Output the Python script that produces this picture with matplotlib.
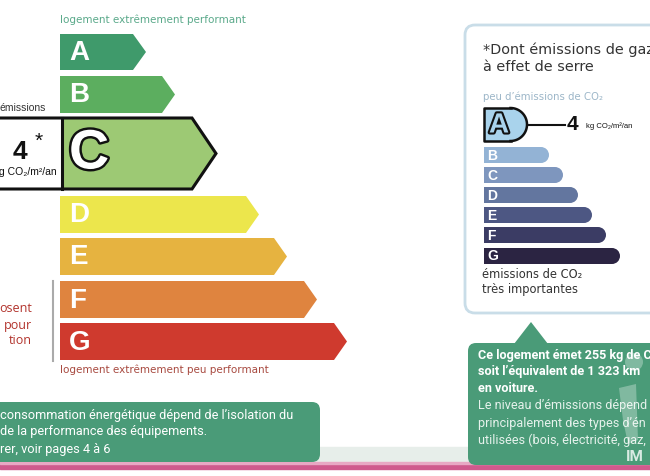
import matplotlib
matplotlib.use("Agg")
import matplotlib.pyplot as plt
from matplotlib.patches import Polygon, Rectangle, Circle, FancyBboxPatch
import matplotlib.patheffects as pe
import numpy as np

# ---------------- data ----------------
dpe_letters = ['A', 'B', 'C', 'D', 'E', 'F', 'G']
dpe_widths = [86, 115, 154, 199, 227, 257, 287]          # bar length (px)
dpe_colors = ['#3f9a6b', '#5cae5f', '#9dc974', '#ece64c', '#e6b340', '#df843f', '#cf3a2e']
dpe_class = 'C'
ges_value = 4
ges_class = 'A'
ges_letters = ['B', 'C', 'D', 'E', 'F', 'G']
ges_widths = [65, 79, 94, 108, 122, 136]
ges_colors = ['#93b3d5', '#7e96be', '#63769f', '#4d5783', '#3b3c64', '#2b2442']
unit = 'kg CO₂/m²/an'
top_label = 'logement extrêmement performant'
bottom_label = 'logement extrêmement peu performant'
left_box_lines = ['consommation énergétique dépend de l\u2019isolation du',
                  'de la performance des équipements.',
                  'rer, voir pages 4 à 6']
callout_bold = ['Ce logement émet 255 kg de CO₂', 'soit l\u2019équivalent de 1 323 km', 'en voiture.']
callout_norm = ['Le niveau d\u2019émissions dépend', 'principalement des types d\u2019én',
                'utilisées (bois, électricité, gaz,']

GREEN = '#4a9b78'

fig = plt.figure(figsize=(6.5, 4.76), dpi=100)
ax = fig.add_axes([0, 0, 1, 1])
ax.set_xlim(0, 650)
ax.set_ylim(476, 0)
ax.axis('off')

# ---------------- background bands ----------------
ax.add_patch(Rectangle((0, 447), 650, 16, color='#e7eeea', zorder=0))
ax.add_patch(Rectangle((0, 463), 650, 6, color='#cf5a8d', zorder=1))
ax.add_patch(Rectangle((0, 462), 650, 1.5, color='#e8a8c4', zorder=1))

# ---------------- left DPE scale ----------------
x0 = 60
tops = [34, 76, 118, 196, 238, 281, 323]
hs = [36, 37, 71, 37, 37, 37, 37]
for L, w, c, t, h in zip(dpe_letters, dpe_widths, dpe_colors, tops, hs):
    if L == dpe_class:
        xs = 62
        tip = 24
        xe = xs + w
        shape = [(-5, t), (xe - tip, t), (xe, t + h / 2), (xe - tip, t + h), (-5, t + h)]
        ax.add_patch(Polygon(shape, closed=True, facecolor='white', edgecolor='none', zorder=2))
        ax.add_patch(Polygon([(xs, t), (xe - tip, t), (xe, t + h / 2), (xe - tip, t + h), (xs, t + h)],
                             closed=True, facecolor=c, edgecolor='none', zorder=3))
        ax.add_patch(Polygon(shape, closed=True, facecolor='none', edgecolor='#111111', lw=2.2, zorder=4))
        ax.plot([xs, xs], [t, t + h], color='#111111', lw=2.2, zorder=4)
        ax.text(xs + 7, t + h / 2 + 1, L, fontsize=40, fontweight='bold', family='Liberation Sans',
                color='white', ha='left', va='center', zorder=5,
                path_effects=[pe.withStroke(linewidth=3.5, foreground='#111111')])
        # value box content
        ax.text(13, 152, str(ges_value), fontsize=19, fontweight='bold', family='Liberation Sans',
                color='#111111', ha='left', va='center', zorder=5)
        ax.text(35, 141, '*', fontsize=15, family='Liberation Sans', color='#111111',
                ha='left', va='center', zorder=5)
        ax.text(-1, 172, 'g CO₂/m²/an', fontsize=7.5, family='Liberation Sans', color='#111111',
                ha='left', va='center', zorder=5)
    else:
        tip = 13
        xe = x0 + w
        ax.add_patch(Polygon([(x0, t), (xe - tip, t), (xe, t + h / 2), (xe - tip, t + h), (x0, t + h)],
                             closed=True, facecolor=c, edgecolor='none', zorder=3))
        ax.text(x0 + 9, t + h / 2 + 1, L, fontsize=20, fontweight='bold', family='Liberation Sans',
                color='white', ha='left', va='center', zorder=5)

ax.text(60, 20, top_label, fontsize=7.5, color='#5aa98a', ha='left', va='center')
ax.text(60, 370, bottom_label, fontsize=7.5, color='#a84a40', ha='left', va='center')
ax.text(-1, 108, 'émissions', fontsize=7.5, family='Liberation Sans', color='#333333',
        ha='left', va='center')
ax.plot([53, 53], [281, 361], color='#aaaaaa', lw=1.5)
for s, y in zip(['osent', 'pour', 'tion'], [308, 325, 341]):
    ax.text(32, y, s, fontsize=9, family='Open Sans', color='#b2332c', ha='right', va='center')

# ---------------- left bottom green box ----------------
ax.add_patch(FancyBboxPatch((-20, 402), 340, 60, boxstyle='round,pad=0,rounding_size=8',
                            facecolor=GREEN, edgecolor='none', zorder=2))
for s, y in zip(left_box_lines, [415, 432, 449]):
    ax.text(0, y, s, fontsize=9.2, family='Roboto', color='white', ha='left', va='center', zorder=3)

# ---------------- right GES panel ----------------
ax.add_patch(FancyBboxPatch((465, 25), 220, 288, boxstyle='round,pad=0,rounding_size=10',
                            facecolor='white', edgecolor='#c9dde8', lw=2, zorder=2))
ax.text(483, 50, '*Dont émissions de gaz', fontsize=10.4, family='DejaVu Sans', color='#333333',
        ha='left', va='center', zorder=3)
ax.text(483, 67, 'à effet de serre', fontsize=10.4, family='DejaVu Sans', color='#333333',
        ha='left', va='center', zorder=3)
ax.text(483, 97, "peu d\u2019émissions de CO₂", fontsize=7.3, family='DejaVu Sans', color='#9cb6c8',
        ha='left', va='center', zorder=3)

# class A box (D-shape)
ya, hA = 108, 33
r = hA / 2
xa0, xa1 = 484, 527
ax.add_patch(Rectangle((xa0, ya), xa1 - r - xa0, hA, facecolor='#a9d3ec', edgecolor='none', zorder=3))
ax.add_patch(Circle((xa1 - r, ya + r), r, facecolor='#a9d3ec', edgecolor='none', zorder=3))
th = np.linspace(-np.pi / 2, np.pi / 2, 60)
ax.plot([xa1 - r, xa0, xa0, xa1 - r], [ya, ya, ya + hA, ya + hA], color='#111111', lw=1.8, zorder=4)
ax.plot(xa1 - r + r * np.cos(th), ya + r + r * np.sin(th), color='#111111', lw=1.8, zorder=4)
ax.text(489, ya + r + 1, ges_class, fontsize=20, fontweight='bold', family='Liberation Sans',
        color='#a9d3ec', ha='left', va='center', zorder=5,
        path_effects=[pe.withStroke(linewidth=3, foreground='#111111')])
ax.plot([528, 565], [ya + r, ya + r], color='#111111', lw=1.5, zorder=4)
ax.text(567, ya + r, str(ges_value), fontsize=15, fontweight='bold', family='Liberation Sans',
        color='#111111', ha='left', va='center', zorder=5)
ax.text(586, ya + r + 2, unit, fontsize=5.5, family='Liberation Sans', color='#111111',
        ha='left', va='center', zorder=5)

gtops = [147, 167, 187, 207, 227, 248]
gh = 16
for L, w, c, t in zip(ges_letters, ges_widths, ges_colors, gtops):
    rr = gh / 2
    ax.add_patch(Rectangle((484, t), w - rr, gh, facecolor=c, edgecolor='none', zorder=3))
    ax.add_patch(Circle((484 + w - rr, t + rr), rr, facecolor=c, edgecolor='none', zorder=3))
    ax.text(487, t + rr + 0.5, L, fontsize=10, fontweight='bold', family='Liberation Sans',
            color='white', ha='left', va='center', zorder=5)
ax.text(482, 275, 'émissions de CO₂', fontsize=8.3, family='DejaVu Sans', color='#333333',
        ha='left', va='center', zorder=3)
ax.text(482, 290, 'très importantes', fontsize=8.3, family='DejaVu Sans', color='#333333',
        ha='left', va='center', zorder=3)

# ---------------- right callout ----------------
ax.add_patch(FancyBboxPatch((468, 343), 220, 122, boxstyle='round,pad=0,rounding_size=8',
                            facecolor=GREEN, edgecolor='none', zorder=2))
ax.add_patch(Polygon([(514, 344), (531, 322), (548, 344)], closed=True, facecolor=GREEN,
                     edgecolor='none', zorder=2))
for s, y in zip(callout_bold, [355, 372, 388]):
    ax.text(478, y, s, fontsize=9.1, fontweight='bold', family='Roboto', color='white',
            ha='left', va='center', zorder=3)
for s, y in zip(callout_norm, [406, 423, 440]):
    ax.text(478, y, s, fontsize=9.1, family='Roboto', color='#e6f2ec',
            ha='left', va='center', zorder=3)
# watermark
ax.add_patch(Circle((634, 362), 9, facecolor='white', alpha=0.3, edgecolor='none', zorder=4))
ax.add_patch(Polygon([(619, 388), (636, 384), (638, 440), (628, 444), (623, 420)], closed=True,
                     facecolor='white', alpha=0.3, edgecolor='none', zorder=4))
ax.text(626, 457, 'IM', fontsize=11, fontweight='bold', family='Roboto', color='#d9ebe3',
        ha='left', va='center', zorder=4)

fig.savefig('out.png', dpi=100)
